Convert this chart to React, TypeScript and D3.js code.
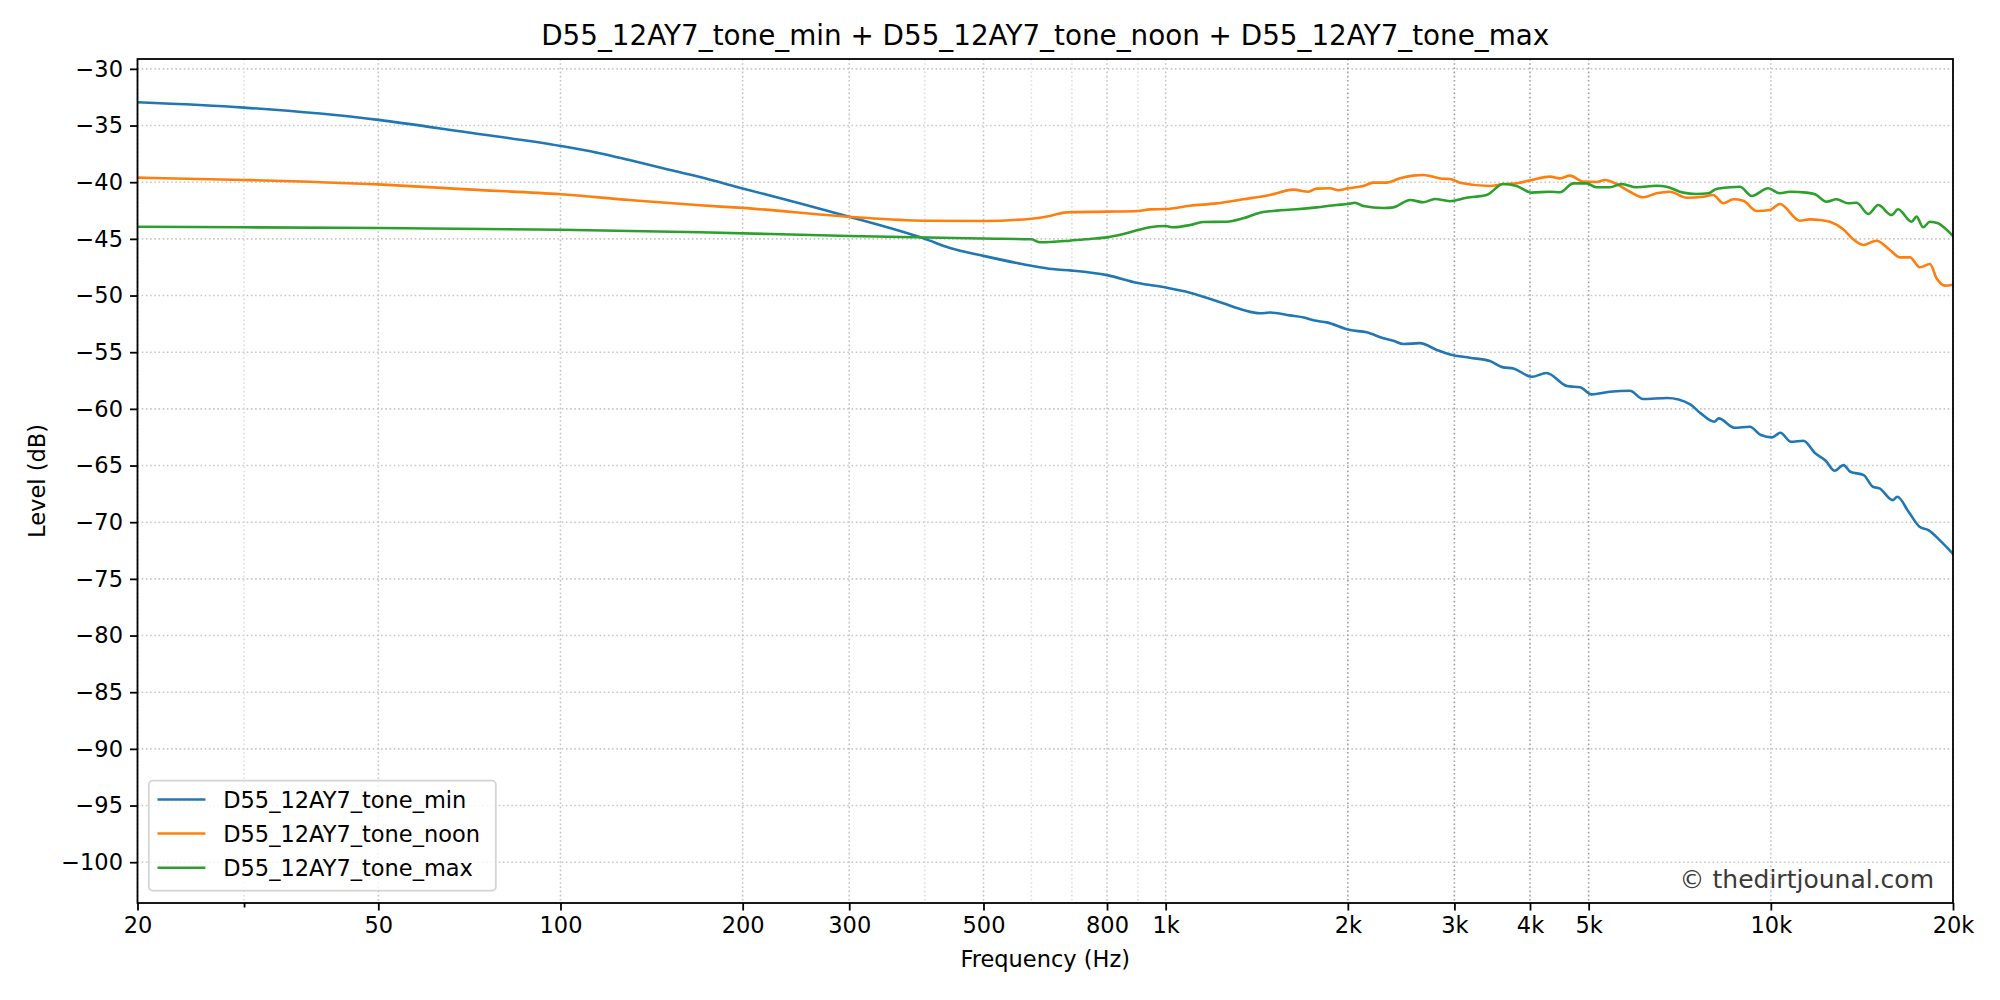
import * as d3 from "d3";
import { useEffect, useRef } from "react";

const title = "D55_12AY7_tone_min + D55_12AY7_tone_noon + D55_12AY7_tone_max";
const seriesNames = ["D55_12AY7_tone_min", "D55_12AY7_tone_noon", "D55_12AY7_tone_max"];
const seriesColors = ["#1f77b4", "#ff7f0e", "#2ca02c"];

const minFreq = [20, 30, 50, 70, 100, 115, 130, 150, 170, 200, 250, 300, 400, 440, 500, 600, 650, 700, 800, 900, 1000, 1097, 1245, 1343, 1432, 1486, 1604, 1699, 1754, 1845, 2018, 2149, 2291, 2378, 2472, 2631, 2805, 2950, 3182, 3434, 3613, 3753, 4027, 4260, 4604, 4843, 5053, 5419, 5849, 6146, 6744, 7346, 7659, 8063, 8201, 8703, 9235, 9627, 10050, 10368, 10795, 11322, 11813, 12325, 12748, 13190, 13530, 14240, 14740, 15120, 15910, 16180, 16890, 17610, 18210, 19010, 20000];
const minDb = [-32.95, -33.42, -34.5, -35.6, -36.8, -37.4, -38.05, -38.85, -39.55, -40.55, -41.9, -43.05, -45.0, -45.8, -46.5, -47.37, -47.66, -47.8, -48.2, -48.9, -49.3, -49.75, -50.69, -51.28, -51.57, -51.5, -51.75, -51.96, -52.19, -52.37, -53.05, -53.25, -53.78, -53.99, -54.28, -54.2, -54.8, -55.2, -55.49, -55.78, -56.34, -56.43, -57.17, -56.83, -57.99, -58.1, -58.72, -58.49, -58.4, -59.13, -59.04, -59.58, -60.4, -61.14, -60.84, -61.67, -61.58, -62.31, -62.52, -62.11, -62.9, -62.81, -63.87, -64.58, -65.46, -64.96, -65.55, -65.84, -66.87, -67.02, -68.05, -67.76, -69.08, -70.4, -70.7, -71.58, -72.8];

const noonFreq = [20, 30, 50, 70, 100, 130, 170, 200, 300, 400, 500, 600, 644, 686, 800, 900, 942, 1000, 1097, 1214, 1343, 1486, 1625, 1721, 1775, 1868, 1929, 2000, 2121, 2204, 2318, 2439, 2565, 2665, 2857, 2950, 3065, 3434, 3613, 3801, 4027, 4315, 4483, 4657, 4895, 5152, 5320, 5560, 5849, 6155, 6475, 6810, 7256, 7730, 8032, 8345, 8670, 9005, 9478, 9966, 10350, 11170, 11600, 12050, 12520, 13170, 13680, 14210, 14950, 15730, 16340, 16980, 17630, 18320, 18790, 19400, 20000];
const noonDb = [-39.6, -39.8, -40.19, -40.63, -41.07, -41.57, -42.04, -42.27, -43.05, -43.4, -43.42, -43.22, -42.98, -42.66, -42.6, -42.54, -42.4, -42.37, -42.08, -41.87, -41.51, -41.13, -40.66, -40.84, -40.57, -40.54, -40.71, -40.54, -40.33, -40.04, -40.04, -39.66, -39.42, -39.36, -39.69, -39.72, -40.04, -40.33, -40.16, -40.1, -39.8, -39.51, -39.66, -39.42, -39.95, -39.98, -39.8, -40.16, -40.84, -41.33, -40.98, -40.84, -41.37, -41.28, -41.13, -41.86, -41.51, -41.63, -42.54, -42.45, -41.92, -43.4, -43.28, -43.34, -43.49, -44.16, -45.04, -45.54, -45.16, -45.98, -46.63, -46.63, -47.51, -47.22, -48.48, -49.13, -49.05];

const maxFreq = [20, 30, 50, 100, 170, 300, 500, 600, 620, 694, 749, 800, 851, 900, 942, 1000, 1029, 1097, 1153, 1261, 1343, 1432, 1486, 1646, 1775, 1917, 2000, 2055, 2121, 2291, 2378, 2535, 2665, 2785, 2950, 3143, 3391, 3613, 3801, 4027, 4315, 4483, 4716, 4963, 5152, 5419, 5669, 6000, 6475, 6726, 7164, 7539, 7883, 8128, 8560, 8890, 9300, 9900, 10350, 10750, 11460, 11830, 12360, 12840, 13430, 13860, 14490, 15050, 15830, 16230, 17080, 17410, 17850, 18320, 18900, 19400, 20000];
const maxDb = [-43.93, -43.98, -44.04, -44.19, -44.42, -44.75, -44.97, -45.04, -45.3, -45.16, -45.01, -44.87, -44.57, -44.22, -43.98, -43.87, -43.98, -43.78, -43.51, -43.49, -43.19, -42.69, -42.57, -42.39, -42.22, -42.01, -41.92, -41.81, -42.1, -42.28, -42.22, -41.57, -41.77, -41.48, -41.68, -41.37, -41.13, -40.16, -40.33, -40.92, -40.84, -40.89, -40.1, -40.1, -40.45, -40.45, -40.16, -40.45, -40.31, -40.4, -40.92, -41.04, -40.98, -40.6, -40.45, -40.4, -41.22, -40.54, -40.98, -40.84, -40.92, -41.07, -41.72, -41.51, -41.86, -41.81, -42.81, -42.01, -42.9, -42.39, -43.49, -43.04, -43.98, -43.49, -43.63, -44.07, -44.75];

const freqTicks = [20, 50, 100, 200, 300, 500, 800, 1000, 2000, 3000, 4000, 5000, 10000, 20000];
const darkGridFreqs = [2000, 3000, 4000, 5000];
const minorGridFreqs = [30, 400, 600, 700, 900];
const minorTickFreqs = [30];
const levelTicks = [-30, -35, -40, -45, -50, -55, -60, -65, -70, -75, -80, -85, -90, -95, -100];

export default function App() {
  const svgRef = useRef<SVGSVGElement | null>(null);

  useEffect(() => {
    if (!svgRef.current) return;
    const width = 2000;
    const height = 1000;
    const margin = { top: 59, right: 47, bottom: 97, left: 137.5 };
    const font = "DejaVu Sans";

    const svg = d3.select(svgRef.current);
    svg.selectAll("*").remove();
    svg.attr("viewBox", `0 0 ${width} ${height}`);

    svg.append("rect").attr("width", width).attr("height", height).attr("fill", "#fff");

    const x = d3.scaleLog().domain([20, 20000]).range([margin.left, width - margin.right]);
    const y = d3.scaleLinear().domain([-103.6, -29.13]).range([height - margin.bottom, margin.top]);

    const fmt = (f: number) => (f >= 1000 ? `${f / 1000}k` : `${f}`);
    const grid = svg.append("g");
    const dots = "1.6,2.6";

    grid
      .selectAll("line.h")
      .data(levelTicks)
      .join("line")
      .attr("x1", margin.left)
      .attr("x2", width - margin.right)
      .attr("y1", (d) => y(d))
      .attr("y2", (d) => y(d))
      .attr("stroke", "#c8c8c8")
      .attr("stroke-width", 1.6)
      .attr("stroke-dasharray", dots);

    const vGrid = (freqs: number[], color: string) =>
      grid
        .append("g")
        .selectAll("line")
        .data(freqs)
        .join("line")
        .attr("x1", (d) => x(d))
        .attr("x2", (d) => x(d))
        .attr("y1", margin.top)
        .attr("y2", height - margin.bottom)
        .attr("stroke", color)
        .attr("stroke-width", 1.6)
        .attr("stroke-dasharray", dots);

    vGrid(minorGridFreqs, "#dedede");
    vGrid(freqTicks.filter((f) => !darkGridFreqs.includes(f)), "#c4c4c4");
    vGrid(darkGridFreqs, "#a0a0a0");

    const line = d3
      .line<[number, number]>()
      .x((d) => x(d[0]))
      .y((d) => y(d[1]))
      .curve(d3.curveMonotoneX);

    const series: [number[], number[]][] = [
      [minFreq, minDb],
      [noonFreq, noonDb],
      [maxFreq, maxDb],
    ];

    svg
      .append("defs")
      .append("clipPath")
      .attr("id", "plot-clip")
      .append("rect")
      .attr("x", margin.left)
      .attr("y", margin.top)
      .attr("width", width - margin.left - margin.right)
      .attr("height", height - margin.top - margin.bottom);

    const lines = svg.append("g").attr("clip-path", "url(#plot-clip)");
    series.forEach(([fs, vs], i) => {
      lines
        .append("path")
        .datum(fs.map((f, j) => [f, vs[j]] as [number, number]))
        .attr("fill", "none")
        .attr("stroke", seriesColors[i])
        .attr("stroke-width", 2.6)
        .attr("stroke-linejoin", "round")
        .attr("stroke-linecap", "square")
        .attr("d", line);
    });

    // frame
    svg
      .append("rect")
      .attr("x", margin.left)
      .attr("y", margin.top)
      .attr("width", width - margin.left - margin.right)
      .attr("height", height - margin.top - margin.bottom)
      .attr("fill", "none")
      .attr("stroke", "#000")
      .attr("stroke-width", 1.8);

    const xAxis = svg
      .append("g")
      .attr("transform", `translate(0,${height - margin.bottom})`)
      .call(
        d3
          .axisBottom(x)
          .tickValues(freqTicks)
          .tickFormat((d) => fmt(d as number))
          .tickSize(7.5)
          .tickPadding(7) as any
      );
    const xMinor = svg
      .append("g")
      .attr("transform", `translate(0,${height - margin.bottom})`)
      .call(d3.axisBottom(x).tickValues(minorTickFreqs).tickFormat(() => "").tickSize(4.5) as any);

    const yAxis = svg
      .append("g")
      .attr("transform", `translate(${margin.left},0)`)
      .call(
        d3
          .axisLeft(y)
          .tickValues(levelTicks)
          .tickFormat((d) => `${d}`.replace("-", "\u2212"))
          .tickSize(7.5)
          .tickPadding(7) as any
      );

    [xAxis, xMinor, yAxis].forEach((g) => {
      g.select(".domain").remove();
      g.selectAll("line").attr("stroke", "#000").attr("stroke-width", 1.8);
      g.selectAll("text").attr("fill", "#000").attr("font-size", 22.5).attr("font-family", font);
    });

    svg
      .append("text")
      .attr("x", (margin.left + width - margin.right) / 2)
      .attr("y", 45)
      .attr("text-anchor", "middle")
      .attr("font-family", font)
      .attr("font-size", 27.8)
      .text(title);

    svg
      .append("text")
      .attr("x", (margin.left + width - margin.right) / 2)
      .attr("y", 967)
      .attr("text-anchor", "middle")
      .attr("font-family", font)
      .attr("font-size", 22.5)
      .text("Frequency (Hz)");

    svg
      .append("text")
      .attr("transform", `translate(45,${(margin.top + height - margin.bottom) / 2}) rotate(-90)`)
      .attr("text-anchor", "middle")
      .attr("font-family", font)
      .attr("font-size", 22.5)
      .text("Level (dB)");

    svg
      .append("text")
      .attr("x", 1934)
      .attr("y", 888)
      .attr("text-anchor", "end")
      .attr("font-family", font)
      .attr("font-size", 25)
      .attr("fill", "#3a3a3a")
      .text("\u00a9 thedirtjounal.com");

    const legend = svg.append("g");
    legend
      .append("rect")
      .attr("x", 148.8)
      .attr("y", 780.7)
      .attr("width", 347)
      .attr("height", 110)
      .attr("rx", 4)
      .attr("fill", "#fff")
      .attr("fill-opacity", 0.8)
      .attr("stroke", "#d4d4d4")
      .attr("stroke-width", 1.8);
    const rowY = [799.5, 833.5, 867.7];
    seriesNames.forEach((name, i) => {
      legend
        .append("line")
        .attr("x1", 157.5)
        .attr("x2", 205.4)
        .attr("y1", rowY[i])
        .attr("y2", rowY[i])
        .attr("stroke", seriesColors[i])
        .attr("stroke-width", 2.6);
      legend
        .append("text")
        .attr("x", 223.2)
        .attr("y", rowY[i])
        .attr("dy", "0.36em")
        .attr("font-family", font)
        .attr("font-size", 22.5)
        .text(name);
    });
  }, []);

  return (
    <div style={{ position: "absolute", left: 0, top: 0, width: 2000, height: 1000 }}>
      <svg ref={svgRef} width={2000} height={1000} style={{ display: "block" }} aria-label="Frequency response chart" />
    </div>
  );
}
